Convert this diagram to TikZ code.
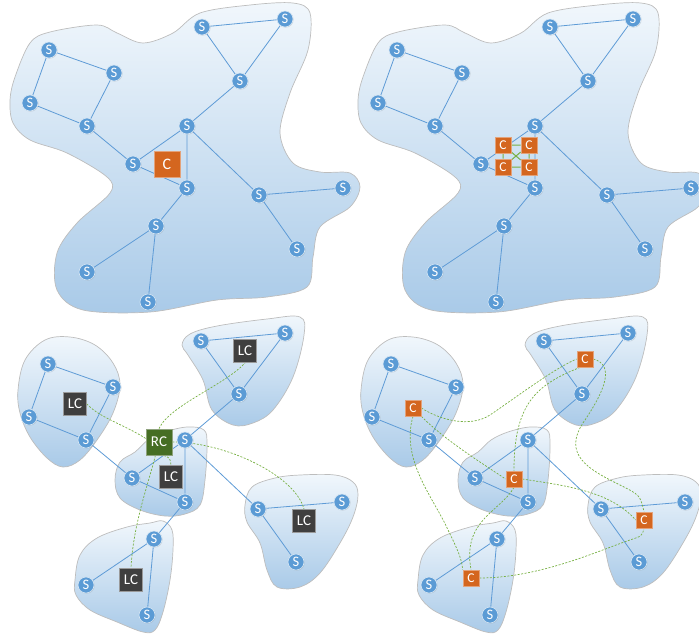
\documentclass[tikz,border=0pt]{standalone}
\usepackage{fontspec}
\setmainfont{Carlito}
\usetikzlibrary{shadows}

\definecolor{sblue}{HTML}{5B9BD5}
\definecolor{wireblue}{HTML}{5E9BD6}
\definecolor{blobline}{HTML}{BDBDBD}
\definecolor{blobtop}{HTML}{F1F7FC}
\definecolor{blobbot}{HTML}{A9CAE8}
\definecolor{corange}{HTML}{D4661F}
\definecolor{cedge}{HTML}{E3A27A}
\definecolor{lcgray}{HTML}{3F3F3F}
\definecolor{lcedge}{HTML}{9A9A9A}
\definecolor{rcgreen}{HTML}{466E24}
\definecolor{rcedge}{HTML}{8FA37E}
\definecolor{cgreen}{HTML}{77B043}

\pgfdeclarelayer{blobs}
\pgfdeclarelayer{links}
\pgfsetlayers{blobs,links,main}

\tikzset{
  cloud/.style={draw=blobline, line width=0.7pt, top color=blobtop, bottom color=blobbot},
  snode/.style={circle, fill=sblue, draw=white!75!sblue, line width=0.6pt,
    minimum size=16pt, inner sep=0pt, text=white, font=\fontsize{14.5}{14.5}\selectfont,
    drop shadow={opacity=0.25, shadow xshift=0.6pt, shadow yshift=-0.6pt}},
  wire/.style={draw=wireblue, line width=0.8pt},
  ctrl/.style={rectangle, fill=corange, draw=cedge, line width=0.8pt, inner sep=0pt, text=white},
  bigc/.style={ctrl, minimum size=26pt, font=\fontsize{16}{16}\selectfont},
  smallc/.style={ctrl, minimum size=16pt, font=\fontsize{13.5}{13.5}\selectfont},
  lcbox/.style={rectangle, fill=lcgray, draw=lcedge, line width=0.8pt, minimum size=23pt,
    inner sep=0pt, text=white, font=\fontsize{15}{15}\selectfont},
  rcbox/.style={lcbox, fill=rcgreen, draw=rcedge, minimum size=26pt},
  peer/.style={draw=cgreen, line width=1pt},
  gdash/.style={draw=cgreen, line width=0.7pt, dash pattern=on 2pt off 1.5pt},
}

% one flat switching domain
\newcommand\flatnet{%
  \begin{pgfonlayer}{blobs}
    \path[cloud] plot[smooth cycle, tension=0.55] coordinates {
      (10,100) (15,77) (30,43) (50,32) (97,25) (117,33) (143,43) (173,33)
      (200,13) (250,5) (293,3) (310,13) (308,50) (290,93) (280,133) (293,163)
      (320,172) (350,173) (360,187) (350,207) (320,227) (313,257) (307,287)
      (267,297) (217,300) (150,312) (83,310) (57,290) (57,253) (77,223)
      (110,193) (107,177) (67,153) (30,140) (13,123)};
  \end{pgfonlayer}
  \node[snode] (s1)  at (49,50)   {S};
  \node[snode] (s2)  at (114,73)  {S};
  \node[snode] (s3)  at (30,103)  {S};
  \node[snode] (s4)  at (87,126)  {S};
  \node[snode] (s5)  at (133,164) {S};
  \node[snode] (s6)  at (187,126) {S};
  \node[snode] (s7)  at (187,188) {S};
  \node[snode] (s8)  at (156,226) {S};
  \node[snode] (s9)  at (87,272)  {S};
  \node[snode] (s10) at (148,302) {S};
  \node[snode] (s11) at (202,27)  {S};
  \node[snode] (s12) at (285,19)  {S};
  \node[snode] (s13) at (240,81)  {S};
  \node[snode] (s14) at (259,195) {S};
  \node[snode] (s15) at (343,188) {S};
  \node[snode] (s16) at (297,249) {S};
  \begin{pgfonlayer}{links}
    \draw[wire] (s1) -- (s2) (s1) -- (s3) (s2) -- (s4) (s3) -- (s4)
      (s4) -- (s5) (s5) -- (s6) (s5) -- (s7) (s6) -- (s7)
      (s6) -- (s13) (s13) -- (s11) (s13) -- (s12) (s11) -- (s12)
      (s6) -- (s14) (s14) -- (s15) (s14) -- (s16)
      (s7) -- (s8) (s8) -- (s9) (s8) -- (s10);
  \end{pgfonlayer}
}

% the same network split into five domains
\newcommand\splitnet{%
  \begin{pgfonlayer}{blobs}
    \path[cloud] plot[smooth cycle, tension=0.6] coordinates {
      (18,390) (25,360) (45,340) (70,337) (95,345) (113,363) (120,385) (113,413)
      (97,440) (80,460) (63,467) (47,458) (30,437) (20,413)};
    \path[cloud] plot[smooth cycle, tension=0.6] coordinates {
      (182,345) (190,334) (217,326) (267,319) (300,317) (304,335) (293,377)
      (273,410) (253,423) (233,425) (212,410) (203,380) (188,355)};
    \path[cloud] plot[smooth cycle, tension=0.6] coordinates {
      (115,480) (120,462) (135,452) (148,440) (165,432) (187,427) (204,430)
      (207,445) (205,480) (200,505) (185,514) (165,516) (140,510) (120,498)};
    \path[cloud] plot[smooth cycle, tension=0.6] coordinates {
      (75,580) (80,555) (97,538) (127,527) (150,523) (163,521) (172,530)
      (173,550) (170,580) (163,612) (155,630) (143,632) (117,622) (90,610) (76,595)};
    \path[cloud] plot[smooth cycle, tension=0.6] coordinates {
      (245,505) (252,487) (275,478) (300,475) (335,475) (353,482) (358,495)
      (353,517) (340,543) (320,573) (300,587) (277,587) (267,570) (260,543) (247,522)};
  \end{pgfonlayer}
  \node[snode] (p1) at (48,364)  {S};
  \node[snode] (p2) at (113,387) {S};
  \node[snode] (p3) at (29,417)  {S};
  \node[snode] (p4) at (86,440)  {S};
  \node[snode] (q1) at (201,341) {S};
  \node[snode] (q2) at (285,333) {S};
  \node[snode] (q3) at (239,394) {S};
  \node[snode] (m1) at (185,440) {S};
  \node[snode] (m2) at (132,478) {S};
  \node[snode] (m3) at (185,502) {S};
  \node[snode] (u1) at (154,539) {S};
  \node[snode] (u2) at (86,585)  {S};
  \node[snode] (u3) at (147,615) {S};
  \node[snode] (v1) at (258,509) {S};
  \node[snode] (v2) at (342,502) {S};
  \node[snode] (v3) at (296,562) {S};
  \begin{pgfonlayer}{links}
    \draw[wire] (p1) -- (p2) (p1) -- (p3) (p2) -- (p4) (p3) -- (p4)
      (p4) -- (m2) (m1) -- (m2) (m2) -- (m3) (m1) -- (m3)
      (m1) -- (q3) (q1) -- (q2) (q1) -- (q3) (q2) -- (q3)
      (m1) -- (v1) (v1) -- (v2) (v1) -- (v3)
      (m3) -- (u1) (u1) -- (u2) (u1) -- (u3);
  \end{pgfonlayer}
}

\begin{document}
\begin{tikzpicture}[x=1pt, y=-1pt]
\useasboundingbox (0,0) rectangle (699,633);

% single centralised controller
\begin{scope}[name prefix=a-]
  \flatnet
  \node[bigc] (c) at (167,164) {C};
\end{scope}

% replicated controller cluster
\begin{scope}[xshift=348pt, name prefix=b-]
  \flatnet
  \node[smallc] (c1) at (155,145) {C};
  \node[smallc] (c2) at (181,145) {C};
  \node[smallc] (c3) at (155,167) {C};
  \node[smallc] (c4) at (181,167) {C};
  \begin{pgfonlayer}{links}
    \draw[peer] (c1) -- (c2) (c3) -- (c4) (c1) -- (c3) (c2) -- (c4)
      (c1) -- (c4) (c2) -- (c3);
  \end{pgfonlayer}
\end{scope}

% hierarchical: root controller over local controllers
\begin{scope}[name prefix=h-]
  \splitnet
  \node[rcbox] (rc) at (159,442) {RC};
  \node[lcbox] (l1) at (75,404)  {LC};
  \node[lcbox] (l2) at (245,351) {LC};
  \node[lcbox] (l3) at (171,477) {LC};
  \node[lcbox] (l4) at (131,580) {LC};
  \node[lcbox] (l5) at (304,521) {LC};
  \begin{pgfonlayer}{links}
    \draw[gdash] (rc.165) .. controls (125,425) and (100,418) .. (l1.east);
    \draw[gdash] (rc.north) .. controls (170,405) and (225,385) .. (l2.south);
    \draw[gdash] (rc.290) .. controls (170,458) .. (l3.north);
    \draw[gdash] (rc.255) .. controls (148,485) and (133,525) .. (l4.north);
    \draw[gdash] (rc.east) .. controls (225,442) and (295,475) .. (l5.north);
  \end{pgfonlayer}
\end{scope}

% distributed peer controllers
\begin{scope}[xshift=343pt, name prefix=d-]
  \splitnet
\end{scope}
\node[smallc] (d1) at (413,408) {C};
\node[smallc] (d2) at (585,359) {C};
\node[smallc] (d3) at (514,479) {C};
\node[smallc] (d4) at (471,578) {C};
\node[smallc] (d5) at (644,520) {C};
\begin{pgfonlayer}{links}
  \draw[gdash] (d1.east) .. controls (440,420) and (470,428) .. (490,415)
    .. controls (515,398) and (555,368) .. (d2.west);
  \draw[gdash] (d1.south east) .. controls (445,440) and (480,462) .. (d3.west);
  \draw[gdash] (d1.south) .. controls (400,460) and (435,500) .. (448,530)
    .. controls (458,550) and (462,560) .. (d4.north west);
  \draw[gdash] (d2.240) .. controls (535,385) and (514,405) .. (d3.north);
  \draw[gdash] (d2.east) .. controls (615,365) and (605,390) .. (585,420)
    .. controls (560,455) and (590,470) .. (620,485)
    .. controls (640,495) .. (d5.north);
  \draw[gdash] (d3.east) .. controls (560,485) and (610,490) .. (d5.west);
  \draw[gdash] (d3.south) .. controls (500,512) and (462,520) .. (d4.north);
  \draw[gdash] (d4.east) .. controls (540,578) and (600,550) .. (630,540)
    .. controls (642,536) .. (d5.south);
\end{pgfonlayer}
\end{tikzpicture}
\end{document}
